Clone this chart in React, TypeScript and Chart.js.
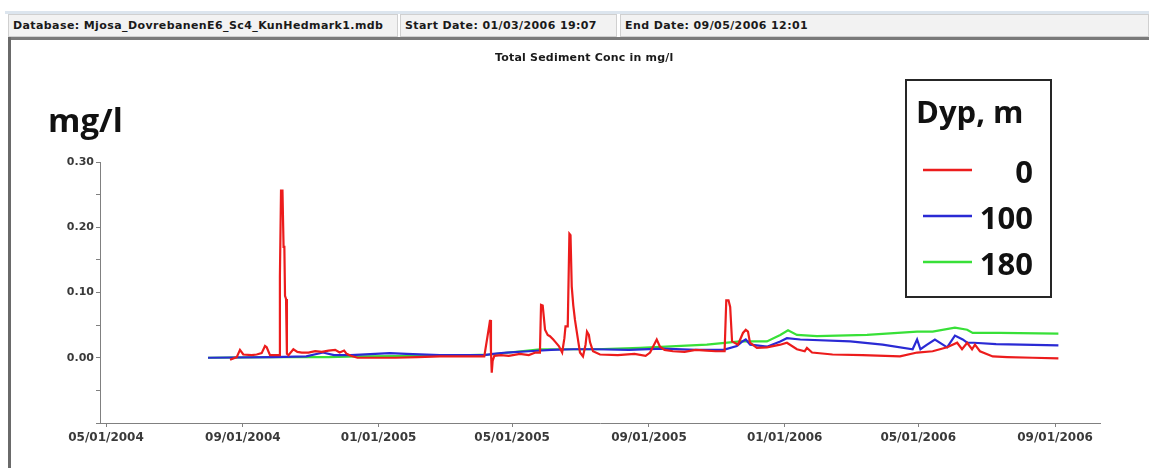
import React, { useEffect, useRef } from 'react';
import { Chart, registerables } from 'chart.js';

Chart.register(...registerables);

// ---------- data (x = days since 05/01/2004, y = mg/l) ----------
const seriesLabels = ['0', '100', '180'];
const seriesColors = ['#ec1c1c', '#2a2ad4', '#38e038'];

const redDays = [111.5, 117.5, 120.4, 123.4, 131, 135.4, 139.9, 142.9, 144.4, 147.4, 153.4, 155.5, 156.3, 157.3, 158.6, 159.6, 160.3, 160.9, 161.8, 162.6, 164, 168.4, 172, 176, 182, 188, 194, 200, 206, 210, 214, 216.3, 220, 226, 240, 260, 280, 300, 320, 340, 344.5, 345.2, 346, 346.7, 347.5, 349, 355, 362, 372, 380, 386, 390, 391, 392.5, 394.6, 397, 399, 402, 404, 407, 410, 412, 413, 415, 416.5, 417.5, 418.6, 420, 421.5, 424, 426, 428.7, 431, 432.3, 434, 435, 437.7, 444, 460, 475, 485, 489, 495, 497.9, 502, 509.6, 520, 530, 540, 548, 556, 557.5, 559.5, 561, 562.7, 568, 572.5, 575, 577, 578.8, 585, 594, 606, 612, 621, 628, 630, 634.6, 653, 680, 713.6, 729, 743, 756, 765, 769.4, 774, 778.4, 781, 785.5, 797, 810, 833, 856];
const redValues = [-0.003, 0.001, 0.012, 0.005, 0.004, 0.005, 0.007, 0.018, 0.016, 0.004, 0.004, 0.004, 0.125, 0.256, 0.256, 0.17, 0.17, 0.095, 0.09, 0.006, 0.004, 0.013, 0.009, 0.008, 0.008, 0.010, 0.009, 0.011, 0.012, 0.008, 0.011, 0.006, 0.003, 0.000, 0.000, 0.000, 0.001, 0.002, 0.002, 0.002, 0.050, 0.058, 0.010, -0.023, -0.005, 0.003, 0.004, 0.003, 0.006, 0.004, 0.008, 0.008, 0.081, 0.080, 0.043, 0.035, 0.033, 0.028, 0.024, 0.018, 0.008, 0.030, 0.048, 0.048, 0.190, 0.188, 0.109, 0.080, 0.058, 0.030, 0.008, 0.002, 0.020, 0.040, 0.035, 0.024, 0.010, 0.005, 0.004, 0.006, 0.003, 0.008, 0.028, 0.017, 0.012, 0.010, 0.009, 0.012, 0.011, 0.010, 0.010, 0.088, 0.088, 0.078, 0.025, 0.020, 0.038, 0.043, 0.040, 0.023, 0.015, 0.016, 0.020, 0.023, 0.013, 0.010, 0.015, 0.008, 0.005, 0.004, 0.002, 0.008, 0.010, 0.016, 0.023, 0.013, 0.023, 0.013, 0.020, 0.010, 0.002, 0.001, 0.000, -0.001];

const blueDays = [91.7, 150, 180, 195, 205, 220, 255, 270, 300, 340, 348, 360, 380, 400, 420, 440, 470, 500, 530, 555, 567, 572, 575, 579, 594, 606, 612, 624, 669, 698, 725, 729, 732, 738, 745, 756, 763, 770, 774, 780, 800, 856];
const blueValues = [0.000, 0.001, 0.002, 0.008, 0.004, 0.004, 0.007, 0.006, 0.004, 0.004, 0.006, 0.008, 0.010, 0.012, 0.013, 0.013, 0.012, 0.014, 0.012, 0.012, 0.018, 0.025, 0.028, 0.020, 0.017, 0.025, 0.030, 0.028, 0.025, 0.020, 0.013, 0.028, 0.013, 0.020, 0.028, 0.016, 0.034, 0.028, 0.023, 0.023, 0.021, 0.019];

const greenDays = [91.7, 150, 200, 226, 300, 345, 390, 440, 480, 540, 570, 594, 606, 613, 621, 639, 684, 729, 743, 763, 774, 779, 803, 856];
const greenValues = [0.000, 0.001, 0.001, 0.002, 0.003, 0.005, 0.013, 0.013, 0.015, 0.020, 0.025, 0.025, 0.035, 0.042, 0.035, 0.033, 0.035, 0.040, 0.040, 0.046, 0.043, 0.038, 0.038, 0.037];

const xTickDays = [0, 123, 245, 365, 488, 610, 730, 853];
const xTickLabels = ['05/01/2004', '09/01/2004', '01/01/2005', '05/01/2005', '09/01/2005', '01/01/2006', '05/01/2006', '09/01/2006'];
const yTickValues = [-0.1, -0.05, 0, 0.05, 0.1, 0.15, 0.2, 0.25, 0.3];
const yTickLabels = ['', '', '0.00', '', '0.10', '', '0.20', '', '0.30'];

const headerCells = [
  'Database: Mjosa_DovrebanenE6_Sc4_KunHedmark1.mdb',
  'Start Date: 01/03/2006 19:07',
  'End Date: 09/05/2006 12:01',
];
const chartTitle = 'Total Sediment Conc in mg/l';
const unitLabel = 'mg/l';
const legendTitle = 'Dyp, m';

// ---------- styling / layout ----------
const W = 1149;
const H = 468;
const tickFont = { family: '"DejaVu Sans", sans-serif', weight: 'bold' as const, size: 11 };
const tickColor = '#3a3a3a';
const axisColor = '#808080';
const cellLefts = [8, 400, 620];
const cellWidths = [390, 217, 529];

const legendBoxPlugin = {
  id: 'legendBox',
  afterDraw(chart: any) {
    const ctx = chart.ctx as CanvasRenderingContext2D;
    const box = { left: 906, top: 80, right: 1051, bottom: 297 };
    ctx.save();
    ctx.fillStyle = '#ffffff';
    ctx.fillRect(box.left, box.top, box.right - box.left, box.bottom - box.top);
    ctx.strokeStyle = '#262626';
    ctx.lineWidth = 2;
    ctx.strokeRect(box.left, box.top, box.right - box.left, box.bottom - box.top);
    ctx.fillStyle = '#111111';
    ctx.textBaseline = 'alphabetic';
    ctx.font = 'bold 31px "Open Sans", sans-serif';
    ctx.textAlign = 'left';
    ctx.fillText(legendTitle, 916, 123);
    ctx.font = 'bold 31px "Open Sans", sans-serif';
    chart.data.datasets.forEach((ds: any, i: number) => {
      const y = 170 + i * 46;
      ctx.strokeStyle = ds.borderColor;
      ctx.lineWidth = 2.5;
      ctx.beginPath();
      ctx.moveTo(923, y);
      ctx.lineTo(972, y);
      ctx.stroke();
      ctx.fillStyle = '#111111';
      ctx.textAlign = 'right';
      ctx.fillText(ds.label, 1033, y + 13);
    });
    ctx.restore();
  },
};

function toPoints(xs: number[], ys: number[]) {
  return xs.map((x, i) => ({ x, y: ys[i] }));
}

export default function App() {
  const canvasRef = useRef<HTMLCanvasElement | null>(null);

  useEffect(() => {
    if (!canvasRef.current) return;
    const seriesX = [redDays, blueDays, greenDays];
    const seriesY = [redValues, blueValues, greenValues];
    const chart = new Chart(canvasRef.current, {
      type: 'line',
      data: {
        datasets: seriesLabels.map((label, i) => ({
          label,
          data: toPoints(seriesX[i], seriesY[i]),
          borderColor: seriesColors[i],
          backgroundColor: seriesColors[i],
          borderWidth: 2.2,
          pointRadius: 0,
          tension: 0,
          fill: false,
        })),
      },
      options: {
        responsive: false,
        animation: false,
        devicePixelRatio: 1,
        layout: { padding: { top: 162, right: 49, left: 0, bottom: 0 } },
        plugins: {
          legend: { display: false },
          title: { display: false },
          tooltip: { enabled: false },
        },
        scales: {
          x: {
            type: 'linear',
            min: -5.4,
            max: 893.4,
            afterBuildTicks: (s: any) => {
              s.ticks = xTickDays.map((v) => ({ value: v }));
            },
            afterFit: (s: any) => {
              s.height = 45;
            },
            ticks: {
              autoSkip: false,
              maxRotation: 0,
              minRotation: 0,
              padding: 4,
              color: tickColor,
              font: { ...tickFont, size: 12 },
              callback: (_v: any, i: number) => xTickLabels[i],
            },
            grid: { drawOnChartArea: false, drawTicks: true, tickLength: 4, color: axisColor },
            border: { display: true, color: axisColor, width: 1 },
          },
          y: {
            type: 'linear',
            min: -0.1,
            max: 0.3,
            afterBuildTicks: (s: any) => {
              s.ticks = yTickValues.map((v) => ({ value: v }));
            },
            afterFit: (s: any) => {
              s.width = 100;
            },
            ticks: {
              autoSkip: false,
              padding: 2,
              color: tickColor,
              font: tickFont,
              callback: (_v: any, i: number) => yTickLabels[i],
            },
            grid: { drawOnChartArea: false, drawTicks: true, tickLength: 4, color: axisColor },
            border: { display: true, color: axisColor, width: 1 },
          },
        },
      },
      plugins: [legendBoxPlugin],
    } as any);
    return () => chart.destroy();
  }, []);

  const headerFont = '"DejaVu Sans", sans-serif';

  return (
    <div style={{ position: 'absolute', left: 0, top: 0, width: W, height: H, background: '#ffffff', overflow: 'hidden' }}>
      <canvas ref={canvasRef} width={W} height={H} style={{ position: 'absolute', left: 0, top: 0, width: W, height: H }} />
      <div style={{ position: 'absolute', left: 5, right: 0, top: 11, height: 3, background: '#dce5ee' }} />
      {headerCells.map((t, i) => (
        <div
          key={i}
          style={{
            position: 'absolute',
            left: cellLefts[i],
            top: 14,
            width: cellWidths[i],
            height: 23,
            boxSizing: 'border-box',
            background: '#f2f2f2',
            border: '1px solid #d0d0d0',
            paddingLeft: 4,
            font: `bold 11px ${headerFont}`,
            letterSpacing: '0.4px',
            lineHeight: '21px',
            color: '#1a1a1a',
            whiteSpace: 'nowrap',
          }}
        >
          {t}
        </div>
      ))}
      <div style={{ position: 'absolute', left: 8, right: 0, top: 37, height: 3, background: '#7a7a7a' }} />
      <div style={{ position: 'absolute', left: 8, top: 37, width: 3, bottom: 0, background: '#6a6a6a' }} />
      <div
        style={{
          position: 'absolute',
          left: 495,
          top: 51,
          font: `bold 11px ${headerFont}`,
          letterSpacing: '0.2px',
          lineHeight: '14px',
          color: '#1a1a1a',
          whiteSpace: 'nowrap',
        }}
      >
        {chartTitle}
      </div>
      <div
        style={{
          position: 'absolute',
          left: 48,
          top: 103,
          font: 'bold 33px "Open Sans", sans-serif',
          lineHeight: '33px',
          color: '#111111',
          whiteSpace: 'nowrap',
        }}
      >
        {unitLabel}
      </div>
    </div>
  );
}
